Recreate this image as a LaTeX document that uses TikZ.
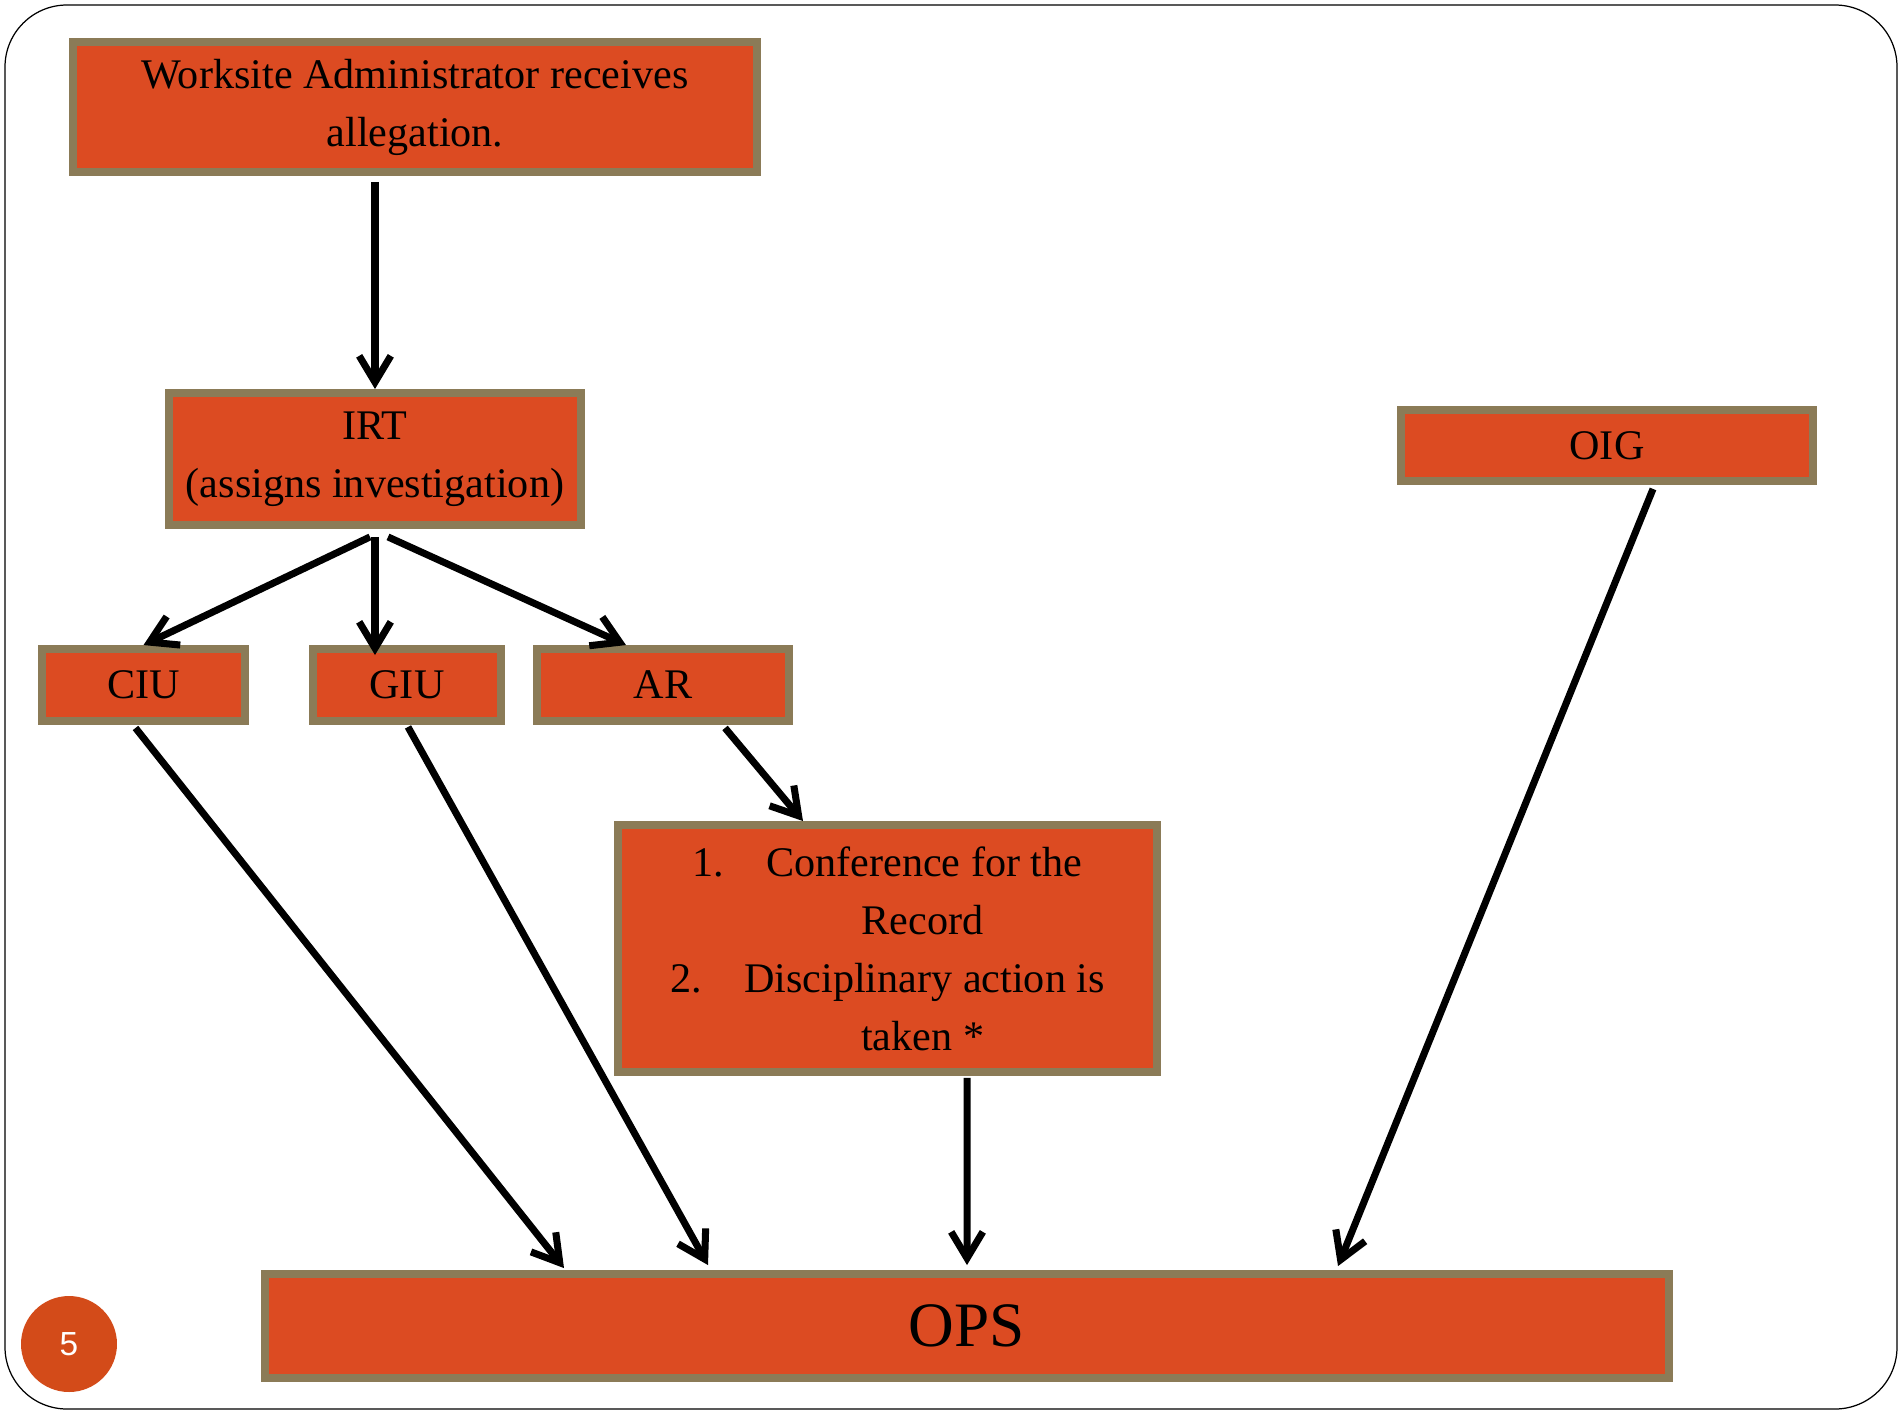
\documentclass[tikz,border=0pt]{standalone}
\usepackage{fontspec}
\setmainfont{Liberation Serif}
\newfontfamily\numfont{Liberation Sans}
\usetikzlibrary{arrows.meta,calc}

\definecolor{rosso}{RGB}{220,75,34}
\definecolor{bordo}{RGB}{139,123,87}
\definecolor{tondo}{RGB}{211,75,25}

\tikzset{
    riquadro/.style={draw=bordo, fill=rosso, line width=4.5pt, inner sep=0pt,
        align=center, font=\fontsize{24}{33}\selectfont},
    freccia/.style={-{Straight Barb[length=15pt,width=18pt]}, line width=4pt}
}

\begin{document}
\begin{tikzpicture}[x=0.02cm, y=-0.02cm]
        \useasboundingbox (0,0) rectangle (1902,1413);
        \draw[line width=0.7pt, rounded corners=1.24cm] (5,5) rectangle (1897,1409);

        %%%%%%%%%% Riquadri %%%%%%%%%%
        \node[riquadro, minimum width=13.68cm, minimum height=2.60cm] (admin) at (415,107)
            {Worksite Administrator receives\\allegation.};
        \node[riquadro, minimum width=8.24cm, minimum height=2.64cm] (irt) at (375,459)
            {IRT\\(assigns investigation)};
        \node[riquadro, minimum width=4.06cm, minimum height=1.44cm] (ciu) at (143.5,685) {CIU};
        \node[riquadro, minimum width=3.76cm, minimum height=1.44cm] (giu) at (407,685) {GIU};
        \node[riquadro, minimum width=5.04cm, minimum height=1.44cm] (ar) at (663,685) {AR};
        \node[riquadro, minimum width=8.24cm, minimum height=1.42cm] (oig) at (1607,445.5) {OIG};
        \node[riquadro, minimum width=10.78cm, minimum height=4.94cm] (esito) at (887.5,948.5)
            {1.\hspace{24pt}Conference for the\\ \hspace*{40pt}Record\\
             2.\hspace{24pt}Disciplinary action is\\ \hspace*{40pt}taken *};
        \node[riquadro, minimum width=28.08cm, minimum height=2.08cm,
            font=\fontsize{36}{40}\selectfont] (ops) at (967,1326) {OPS};

        \node[circle, fill=tondo, minimum size=1.92cm, text=white,
            font=\numfont\fontsize{19}{19}\selectfont] (pag) at (69,1344) {5};

        %%%%%%%%% Frecce %%%%%%%%%
        \draw[freccia] ($(admin.south)+(-40,6)$) -- (irt.north);

        \draw[freccia] ($(irt.south)+(-5,8)$) -- (ciu.north);
        \draw[freccia] ($(irt.south)+(0,8)$) -- ($(giu.north)+(-32,10)$);
        \draw[freccia] ($(irt.south)+(13,8)$) -- ($(ar.north)+(-37,0)$);
        \draw[freccia] ($(ar.south)+(62,3)$) -- ($(esito.north)+(-84.5,0)$);

        \draw[freccia] ($(ciu.south)+(-8,3)$) -- ($(ops.north)+(-403,-2)$);
        \draw[freccia] ($(giu.south)+(1,2)$) -- ($(ops.north)+(-259,-5)$);
        \draw[freccia] ($(esito.south)+(79.5,2)$) -- ($(ops.north)+(0,-5)$);
        \draw[freccia] ($(oig.south)+(46,4)$) -- ($(ops.north)+(371,-4)$);
    \end{tikzpicture}
\end{document}
